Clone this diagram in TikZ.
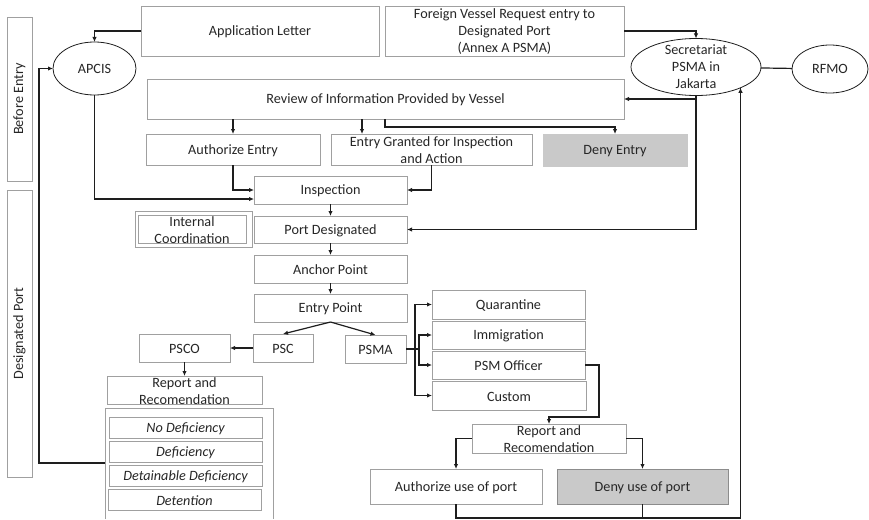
\documentclass[tikz,border=0pt]{standalone}
\usepackage{fontspec}
\setmainfont{Carlito}
\usetikzlibrary{fit,arrows.meta,calc,shapes.geometric}
\definecolor{bord}{HTML}{A0A0A0}
\definecolor{txtc}{HTML}{262626}
\definecolor{linec}{HTML}{1E1E1E}
\definecolor{grayfill}{HTML}{C9C9C9}
\newcommand\bx[5][]{\node[box,fit={(#3) (#4)},#1] (#2) {}; \node[txt] (#2-t) at ([yshift=-1pt]#2.center) {#5};}
\newcommand\el[5]{\node[ell,minimum width=#3pt,minimum height=#4pt] (#1) at (#2) {}; \node[txt] (#1-t) at (#1.center) {#5};}
\begin{document}
\begin{tikzpicture}[x=1pt,y=-1pt,
  box/.style={draw=bord,line width=0.9pt,inner sep=0pt,outer sep=0pt},
  txt/.style={text=txtc,align=center,inner sep=0pt,font=\fontsize{14.2}{17}\selectfont},
  ell/.style={draw=linec,line width=0.8pt,ellipse,inner sep=0pt,outer sep=0pt},
  con/.style={draw=linec,line width=1.2pt,-{Latex[length=5pt,width=4.5pt]}},
  ln/.style={draw=linec,line width=1.2pt},
  grayb/.style={fill=grayfill,draw=grayfill}]
\useasboundingbox (0,0) rectangle (869,519);

% side boxes
\node[box,fit={(7,17) (32,181)}] (be) {};
\node[txt,rotate=90] (be-t) at (be.center) {Before Entry};
\node[box,fit={(7,190) (32,477)}] (dp) {};
\node[txt,rotate=90] (dp-t) at (dp.center) {Designated Port};

% top
\bx{appl}{141,6}{379,56}{Application Letter}
\bx{foreign}{385,6}{624,56}{Foreign Vessel Request entry to\\Designated Port\\(Annex A PSMA)}
\el{apcis}{94.5,68.5}{83}{53}{APCIS}
\el{sec}{696,67}{130}{57}{Secretariat\\PSMA in\\Jakarta}
\el{rfmo}{830,69}{76}{48}{RFMO}

\bx{review}{147,79}{624,119}{Review of Information Provided by Vessel}
\bx{authE}{146,134}{320,165}{Authorize Entry}
\bx{granted}{331,134}{532,165}{Entry Granted for Inspection\\and Action}
\bx[grayb]{denyE}{543,134}{687,166}{Deny Entry}

\bx{insp}{254,176}{407,204}{Inspection}
\node[box,fit={(135,211) (252,247)}] (intco) {};
\bx{inti}{138,215}{246,243}{Internal\\Coordination}
\bx{portd}{254,216}{407,243}{Port Designated}
\bx{anchor}{254,255}{407,283}{Anchor Point}
\bx{entryp}{254,294}{407,322}{Entry Point}
\bx{psc}{253,334}{313,362}{PSC}
\bx{psma}{345,335}{406,363}{PSMA}
\bx{psco}{139,334}{230,362}{PSCO}
\bx{repL}{107,376}{262,404}{Report and\\Recomendation}

% deficiency group
\draw[box] (105,519) -- (105,408) -- (273,408) -- (273,519);
\coordinate (defo) at (105,463);
\bx{nodef}{109,417}{262,438}{\itshape No Deficiency}
\bx{def}{109,441}{262,462}{\itshape Deficiency}
\bx{detdef}{109,465}{262,486}{\itshape Detainable Deficiency}
\bx{deten}{108,489}{261,510}{\itshape Detention}

% PSMA branch
\bx{quar}{432,290}{585,319}{Quarantine}
\bx{immig}{432,321}{585,349}{Immigration}
\bx{psmo}{432,351}{585,379}{PSM Officer}
\bx{custom}{432,381}{586,410}{Custom}
\bx{repR}{472,424}{626,453}{Report and\\Recomendation}
\bx{authp}{370,469}{542,504}{Authorize use of port}
\bx[fill=grayfill,draw=black!45]{denyp}{557,469}{728,504}{Deny use of port}

% connectors
\draw[con] (appl.west) -| (apcis.north);
\draw[con] (foreign.east) -| (sec.north);
\draw[ln] (sec) -- (rfmo);
\draw[con] (sec.south) |- (review.east);
\draw[con] (sec.south) |- (portd.east);
\draw[ln] (authp.south) -- (authp.south |- 0,518) -| (sec.-25);
\draw[con] (sec.-25 |- 0,300) -- (sec.-25);
\draw[ln] (denyp.south) -- (denyp.south |- 0,518);

\draw[con] (review.south -| authE.north) -- (authE.north);
\draw[con] (review.south -| 362,0) -- (granted.north -| 362,0);
\draw[con] (review.south -| 385,0) -- (385,127) -| (denyE.north);
\draw[con] (authE.south) |- (insp.west);
\draw[con] (granted.south) |- (insp.east);
\draw[con] (apcis.south) |- (insp.west |- 0,199);
\draw[con] (insp) -- (portd);
\draw[con] (portd) -- (anchor);
\draw[con] (anchor) -- (entryp);
\draw[con] (entryp.south) -- (psc.north);
\draw[con] (entryp.south) -- (psma.north);
\draw[con] (psc.west) -- (psco.east);
\draw[con] (psco.south) -- (repL.north -| psco.south);
\draw[con] (defo) -- (39,463) |- (apcis.west);

\coordinate (f1) at (415,349);
\coordinate (f2) at (419,349);
\draw[ln] (psma.east) -- (f2);
\draw[con] (f1) |- (quar.west);
\draw[con] (f1) |- (custom.west);
\draw[con] (f2) |- (immig.west);
\draw[con] (f2) |- (psmo.west);
\draw[con] (psmo.east) -- (599,365) |- ($(repR.north)+(0,-7)$) -- (repR.north);
\draw[con] (repR.west) -| (authp.north);
\draw[con] (repR.east) -| (denyp.north);
\end{tikzpicture}
\end{document}
